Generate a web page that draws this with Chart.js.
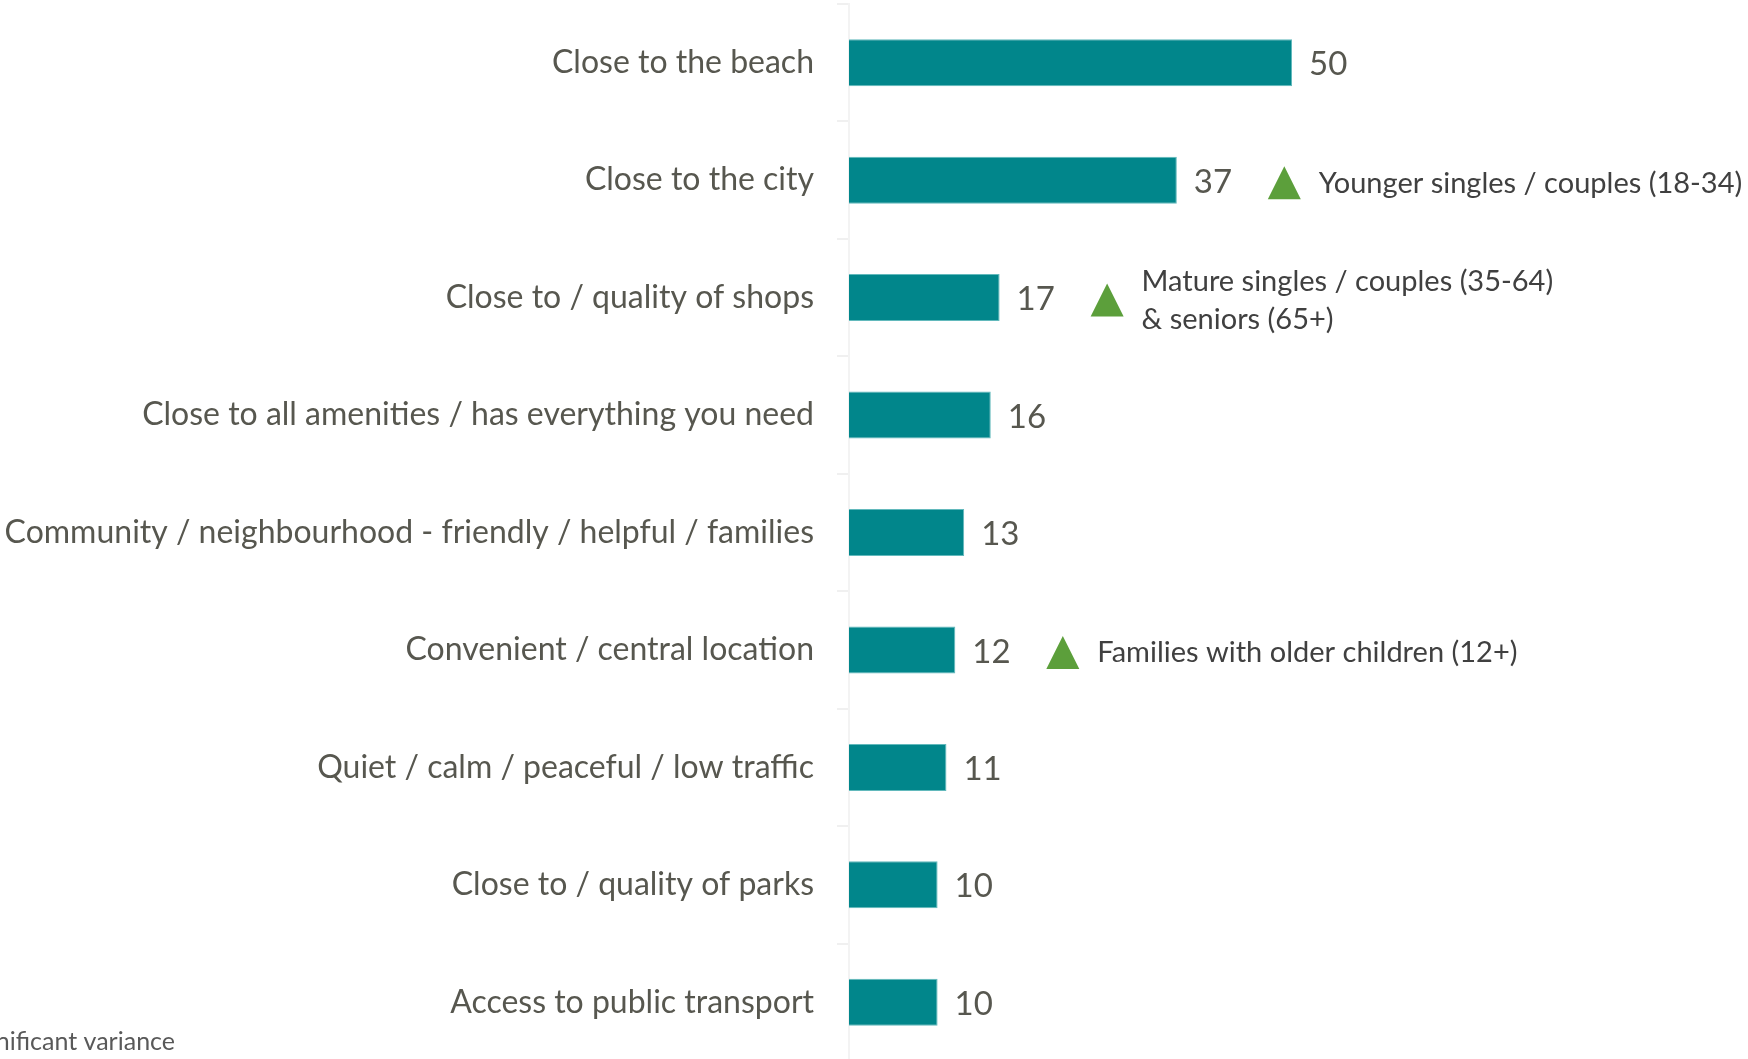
<!DOCTYPE html>
<html>
<head>
<meta charset="utf-8">
<script src="https://cdn.jsdelivr.net/npm/chart.js@4/dist/chart.umd.min.js"></script>
<style>
  html, body { margin: 0; padding: 0; background: #ffffff; overflow: hidden; }
  #wrap { width: 1748px; height: 1061px; position: relative; }
</style>
</head>
<body>
<div id="wrap"><canvas id="c" width="1748" height="1061"></canvas></div>
<script>
// ---- data ----
const categories = [
  "Close to the beach",
  "Close to the city",
  "Close to / quality of shops",
  "Close to all amenities / has everything you need",
  "Community / neighbourhood - friendly / helpful / families",
  "Convenient / central location",
  "Quiet / calm / peaceful / low traffic",
  "Close to / quality of parks",
  "Access to public transport"
];
const values = [50, 37, 17, 16, 13, 12, 11, 10, 10];
const varianceNotes = [
  null,
  ["Younger singles / couples (18-34)"],
  ["Mature singles / couples (35-64)", "& seniors (65+)"],
  null,
  null,
  ["Families with older children (12+)"],
  null,
  null,
  null
];
const footnoteText = "Significant variance";

// ---- styles ----
const FONT = "Lato, 'Open Sans', sans-serif";
const labelColor = "#57574f";
const barColor = "#01868b";
const triColor = "#5c9f3b";
const noteColor = "#404040";

const valueLabels = {
  id: "valueLabels",
  afterDatasetsDraw(chart) {
    const ctx = chart.ctx;
    const meta = chart.getDatasetMeta(0);
    ctx.save();
    ctx.font = "33px " + FONT;
    ctx.fillStyle = labelColor;
    ctx.textAlign = "left";
    ctx.textBaseline = "middle";
    meta.data.forEach((bar, i) => {
      ctx.fillText(String(values[i]), bar.x + 17, bar.y + 2);
    });
    ctx.restore();
  }
};

const notesPlugin = {
  id: "notes",
  afterDatasetsDraw(chart) {
    const ctx = chart.ctx;
    const meta = chart.getDatasetMeta(0);
    ctx.save();
    meta.data.forEach((bar, i) => {
      const lines = varianceNotes[i];
      if (!lines) return;
      const tx = bar.x + 91;
      const top = bar.y - 14, bottom = bar.y + 19;
      ctx.fillStyle = triColor;
      ctx.beginPath();
      ctx.moveTo(tx, bottom);
      ctx.lineTo(tx + 16.5, top);
      ctx.lineTo(tx + 33, bottom);
      ctx.closePath();
      ctx.fill();
      ctx.font = "29px " + FONT;
      ctx.fillStyle = noteColor;
      ctx.textAlign = "left";
      ctx.textBaseline = "middle";
      const lh = 38;
      const start = bar.y + 3 - (lines.length - 1) * lh / 2;
      lines.forEach((t, k) => ctx.fillText(t, tx + 51, start + k * lh));
    });
    ctx.restore();
  }
};

const footnote = {
  id: "footnote",
  afterDraw(chart) {
    const ctx = chart.ctx;
    ctx.save();
    ctx.font = "25px " + FONT;
    ctx.fillStyle = "#595959";
    ctx.textAlign = "right";
    ctx.textBaseline = "alphabetic";
    ctx.fillText(footnoteText, 175, 1050);
    ctx.restore();
  }
};

new Chart(document.getElementById("c"), {
  type: "bar",
  data: {
    labels: categories,
    datasets: [{
      data: values,
      backgroundColor: barColor,
      borderColor: "#62b9bc",
      borderWidth: 1,
      barPercentage: 0.4,
      categoryPercentage: 1.0
    }]
  },
  options: {
    indexAxis: "y",
    responsive: false,
    animation: false,
    layout: { padding: { top: 4, right: 13, bottom: 0, left: 0 } },
    plugins: { legend: { display: false }, tooltip: { enabled: false } },
    scales: {
      x: { display: false, min: 0, max: 100 },
      y: {
        afterFit(scale) { scale.width = 849; scale.paddingTop = 0; scale.paddingBottom = 0; },
        border: { display: true, color: "#f3f3f3", width: 2 },
        grid: { display: true, drawOnChartArea: false, drawTicks: true, tickLength: 12, color: "#f0f0f0", lineWidth: 2 },
        ticks: { font: { family: FONT, size: 32 }, color: labelColor, padding: 23 }
      }
    }
  },
  plugins: [valueLabels, notesPlugin, footnote]
});
</script>
</body>
</html>
